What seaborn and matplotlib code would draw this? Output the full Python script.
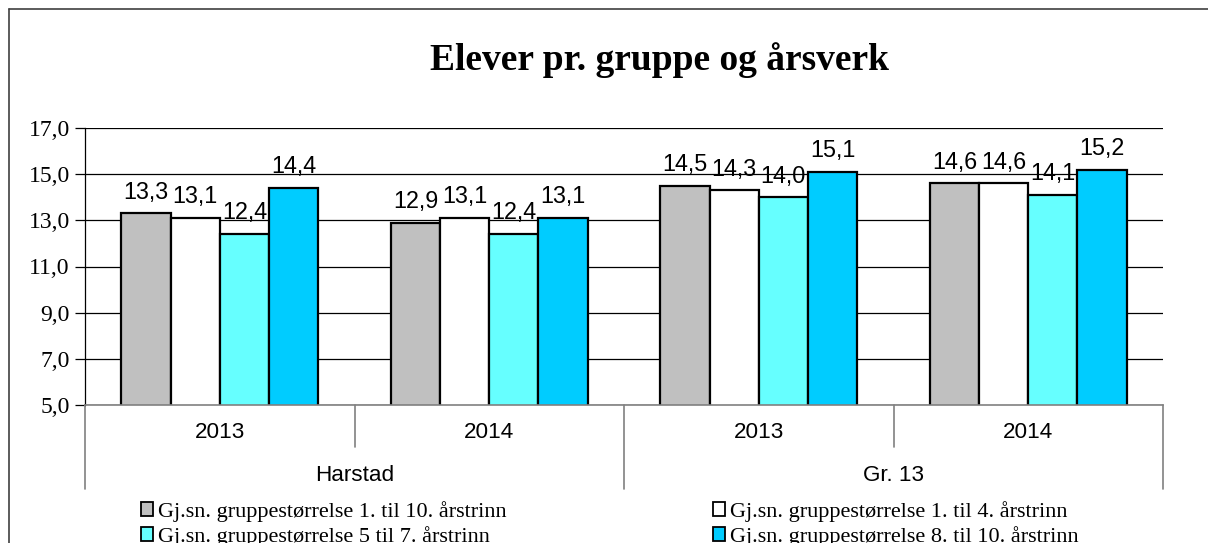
import pandas as pd
import matplotlib.pyplot as plt
import matplotlib.ticker as ticker
from matplotlib.patches import Patch
from matplotlib.lines import Line2D
import seaborn as sns

# data
kategorier = ['Harstad 2013', 'Harstad 2014', 'Gr. 13 2013', 'Gr. 13 2014']
aar = ['2013', '2014', '2013', '2014']
grupper = ['Harstad', 'Gr. 13']
serier = ['Gj.sn. gruppestørrelse 1. til 10. årstrinn',
          'Gj.sn. gruppestørrelse 1. til 4. årstrinn',
          'Gj.sn. gruppestørrelse 5 til 7. årstrinn',
          'Gj.sn. gruppestørrelse 8. til 10. årstrinn']
trinn_1_10 = [13.3, 12.9, 14.5, 14.6]
trinn_1_4 = [13.1, 13.1, 14.3, 14.6]
trinn_5_7 = [12.4, 12.4, 14.0, 14.1]
trinn_8_10 = [14.4, 13.1, 15.1, 15.2]
farger = ['#C0C0C0', '#FFFFFF', '#66FFFF', '#00CCFF']

rows = []
for s, vals in zip(serier, [trinn_1_10, trinn_1_4, trinn_5_7, trinn_8_10]):
    for k, v in zip(kategorier, vals):
        rows.append({'kat': k, 'serie': s, 'verdi': v})
df = pd.DataFrame(rows)
palette = dict(zip(serier, farger))

sns.set_theme(style='white')
plt.rcParams['text.color'] = 'black'
plt.rcParams['ytick.color'] = 'black'
serif = ['Liberation Serif', 'DejaVu Serif']
sans = ['Liberation Sans', 'DejaVu Sans']

fig = plt.figure(figsize=(12.08, 5.43), dpi=100)
ax = fig.add_axes([85 / 1208, 1 - 405 / 543, (1163 - 85) / 1208, 277 / 543])

sns.barplot(data=df, x='kat', y='verdi', hue='serie', order=kategorier,
            hue_order=serier, palette=palette, width=0.73, saturation=1,
            edgecolor='black', linewidth=1.6, legend=False, ax=ax)

ax.set_ylim(5, 17)
ax.set_xlim(-0.5, 3.5)
ax.set_yticks([5, 7, 9, 11, 13, 15, 17])
ax.yaxis.set_major_formatter(ticker.FuncFormatter(lambda v, _: f'{v:.1f}'.replace('.', ',')))
ax.yaxis.grid(True, color='black', linewidth=0.9)
ax.set_axisbelow(True)
ax.tick_params(axis='y', left=True, direction='out', length=7, width=0.9,
               color='black', labelcolor='black', pad=4, labelsize=17)
for lbl in ax.get_yticklabels():
    lbl.set_family(serif)
ax.set_xticks([])
ax.set_xlabel('')
ax.set_ylabel('')
for side in ['top', 'right']:
    ax.spines[side].set_visible(False)
ax.spines['left'].set_color('black')
ax.spines['left'].set_linewidth(0.9)
ax.spines['bottom'].set_color('#808080')
ax.spines['bottom'].set_linewidth(1.2)

for c in ax.containers:
    ax.bar_label(c, fmt=lambda v: f'{v:.1f}'.replace('.', ','), padding=7,
                 fontsize=16.8, family=sans, color='black')

# two-level category axis
trans = ax.get_xaxis_transform()
for i, a in enumerate(aar):
    ax.text(i, -0.101, a, transform=trans, ha='center', va='center',
            fontsize=16.2, family=sans, color='black')
for j, g in enumerate(grupper):
    ax.text(2 * j + 0.5, -0.256, g, transform=trans, ha='center', va='center',
            fontsize=16.2, family=sans, color='black')
for x, y0 in [(-0.5, -0.303), (0.5, -0.152), (1.5, -0.303), (2.5, -0.152), (3.5, -0.303)]:
    ax.add_line(Line2D([x, x], [0, y0], transform=trans, color='#808080',
                       linewidth=1.2, clip_on=False))

fig.text(659 / 1208, 1 - 70 / 543, 'Elever pr. gruppe og årsverk', ha='center',
         va='baseline', fontsize=27, fontweight='bold', family=serif, color='black')

# legend: row 1 gray/white, row 2 cyan/blue
handles = [Patch(facecolor=palette[s], edgecolor='black', linewidth=1.3) for s in serier]
order = [0, 2, 1, 3]
fig.legend([handles[i] for i in order], [serier[i] for i in order], ncol=2,
           loc='center left', bbox_to_anchor=(141 / 1208, 1 - 524 / 543),
           frameon=False, prop={'family': serif, 'size': 16},
           handlelength=0.55, handleheight=0.55, handletextpad=0.2,
           columnspacing=9.3, labelspacing=0.18, borderpad=0, borderaxespad=0)

# outer chart border
fig.add_artist(Line2D([9 / 1208, 1], [1 - 9 / 543, 1 - 9 / 543], transform=fig.transFigure,
                      color='#404040', linewidth=1.2))
fig.add_artist(Line2D([9 / 1208, 9 / 1208], [0, 1 - 9 / 543], transform=fig.transFigure,
                      color='#404040', linewidth=1.2))

fig.savefig('out.png', dpi=100, facecolor='white')
